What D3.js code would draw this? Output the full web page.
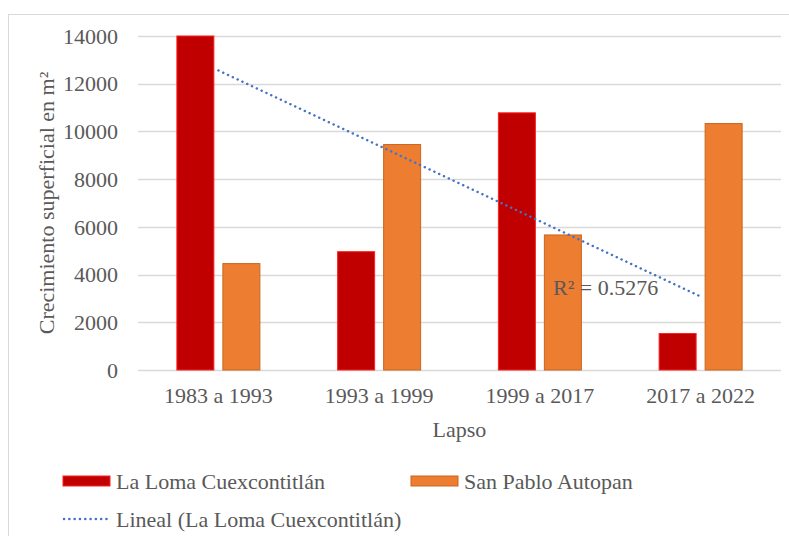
<!DOCTYPE html>
<html>
<head>
<meta charset="utf-8">
<script src="https://cdn.jsdelivr.net/npm/d3@7"></script>
<style>
  body { margin: 0; background: #fff; }
  svg text { font-family: "Liberation Serif", "DejaVu Serif", serif !important; fill: #595959; }
</style>
</head>
<body>
<svg id="chart"></svg>
<script>
const categories = ["1983 a 1993", "1993 a 1999", "1999 a 2017", "2017 a 2022"];
const laLoma = [14000, 4960, 10780, 1530];
const sanPablo = [4460, 9450, 5660, 10330];
const yTicks = [0, 2000, 4000, 6000, 8000, 10000, 12000, 14000];
const seriesNames = ["La Loma Cuexcontitlán", "San Pablo Autopan"];
const trendName = "Lineal (La Loma Cuexcontitlán)";
const r2Label = "R² = 0.5276";

const W = 789, H = 536;
const margin = { top: 36, right: 8, bottom: 166, left: 138 };
const width = W - margin.left - margin.right;
const height = H - margin.top - margin.bottom;
const FONT = "22px";

const svg = d3.select("#chart").attr("width", W).attr("height", H);

// outer frame
svg.append("rect")
  .attr("x", 8.5).attr("y", 14.5)
  .attr("width", W).attr("height", H)
  .attr("fill", "none").attr("stroke", "#d9d9d9");

const chart = svg.append("g")
  .attr("transform", `translate(${margin.left}, ${margin.top})`);

const x = d3.scaleBand().domain(categories).range([0, width]);
const y = d3.scaleLinear().domain([0, 14000]).range([height, 0]);

// gridlines
chart.append("g")
  .selectAll("line")
  .data(yTicks)
  .enter()
  .append("line")
  .attr("x1", 0).attr("x2", width)
  .attr("y1", d => Math.round(y(d)) + 0.5)
  .attr("y2", d => Math.round(y(d)) + 0.5)
  .attr("stroke", "#d9d9d9")
  .attr("stroke-width", 1.3);

// y tick labels
const yAxis = chart.append("g")
  .attr("font-family", null)
  .call(d3.axisLeft(y).tickValues(yTicks).tickSize(0).tickPadding(20).tickFormat(d3.format("d")));
yAxis.attr("font-family", null).attr("font-size", null);
yAxis.select(".domain").remove();
yAxis.selectAll("text").style("font-size", FONT).attr("fill", "#595959").attr("dy", "0.33em");

// x tick labels
const xAxis = chart.append("g")
  .attr("transform", `translate(0, ${height})`)
  .call(d3.axisBottom(x).tickSize(0).tickPadding(17));
xAxis.attr("font-family", null).attr("font-size", null);
xAxis.select(".domain").remove();
xAxis.selectAll("text").style("font-size", FONT).attr("fill", "#595959");

// bars
const barW = 37, gap = 9;
const groups = [
  { values: laLoma, fill: "#c00000", stroke: "#ff2020", offset: -(gap / 2 + barW) },
  { values: sanPablo, fill: "#ed7d31", stroke: "#c9661f", offset: gap / 2 }
];
groups.forEach(s => {
  chart.append("g")
    .selectAll("rect")
    .data(s.values)
    .enter()
    .append("rect")
    .attr("x", (d, i) => x(categories[i]) + x.bandwidth() / 2 + s.offset)
    .attr("y", d => y(d))
    .attr("width", barW)
    .attr("height", d => y(0) - y(d))
    .attr("fill", s.fill)
    .attr("stroke", s.stroke)
    .attr("stroke-width", 1);
});

// linear trendline for La Loma
const n = laLoma.length;
const xs = d3.range(1, n + 1);
const mx = d3.mean(xs), my = d3.mean(laLoma);
const slope = d3.sum(xs, (v, i) => (v - mx) * (laLoma[i] - my)) / d3.sum(xs, v => (v - mx) ** 2);
const intercept = my - slope * mx;
const trend = [1, n].map(v => ({ cat: categories[v - 1], val: intercept + slope * v }));

chart.append("path")
  .datum(trend)
  .attr("fill", "none")
  .attr("stroke", "#4472c4")
  .attr("stroke-width", 2.5)
  .attr("stroke-linecap", "round")
  .attr("stroke-dasharray", "0.1 5.2")
  .attr("d", d3.line().x(d => x(d.cat) + x.bandwidth() / 2).y(d => y(d.val)));

chart.append("text")
  .attr("x", 415)
  .attr("y", 259)
  .style("font-size", FONT)
  .text(r2Label);

// axis titles
chart.append("text")
  .attr("transform", `translate(${46 - margin.left}, ${height / 2}) rotate(-90)`)
  .attr("text-anchor", "middle")
  .attr("dy", "0.35em")
  .style("font-size", FONT)
  .text("Crecimiento superficial en m²");

chart.append("text")
  .attr("x", width / 2)
  .attr("y", height + 67)
  .attr("text-anchor", "middle")
  .style("font-size", FONT)
  .text("Lapso");

// legend
const legend = svg.append("g");
const legendItems = [
  { label: seriesNames[0], type: "rect", fill: "#c00000", stroke: "#ff2020", x: 63, y: 481 },
  { label: seriesNames[1], type: "rect", fill: "#ed7d31", stroke: "#c9661f", x: 411, y: 481 },
  { label: trendName, type: "line", x: 63, y: 519 }
];
legendItems.forEach(item => {
  if (item.type === "rect") {
    legend.append("rect")
      .attr("x", item.x).attr("y", item.y - 5)
      .attr("width", 47).attr("height", 10)
      .attr("fill", item.fill).attr("stroke", item.stroke);
  } else {
    legend.append("line")
      .attr("x1", item.x + 1).attr("x2", item.x + 47)
      .attr("y1", item.y).attr("y2", item.y)
      .attr("stroke", "#4472c4").attr("stroke-width", 2.5)
      .attr("stroke-linecap", "round").attr("stroke-dasharray", "0.1 5.2");
  }
  legend.append("text")
    .attr("x", item.x + 53)
    .attr("y", item.y)
    .attr("dy", "0.35em")
    .style("font-size", FONT)
    .text(item.label);
});
</script>
</body>
</html>
